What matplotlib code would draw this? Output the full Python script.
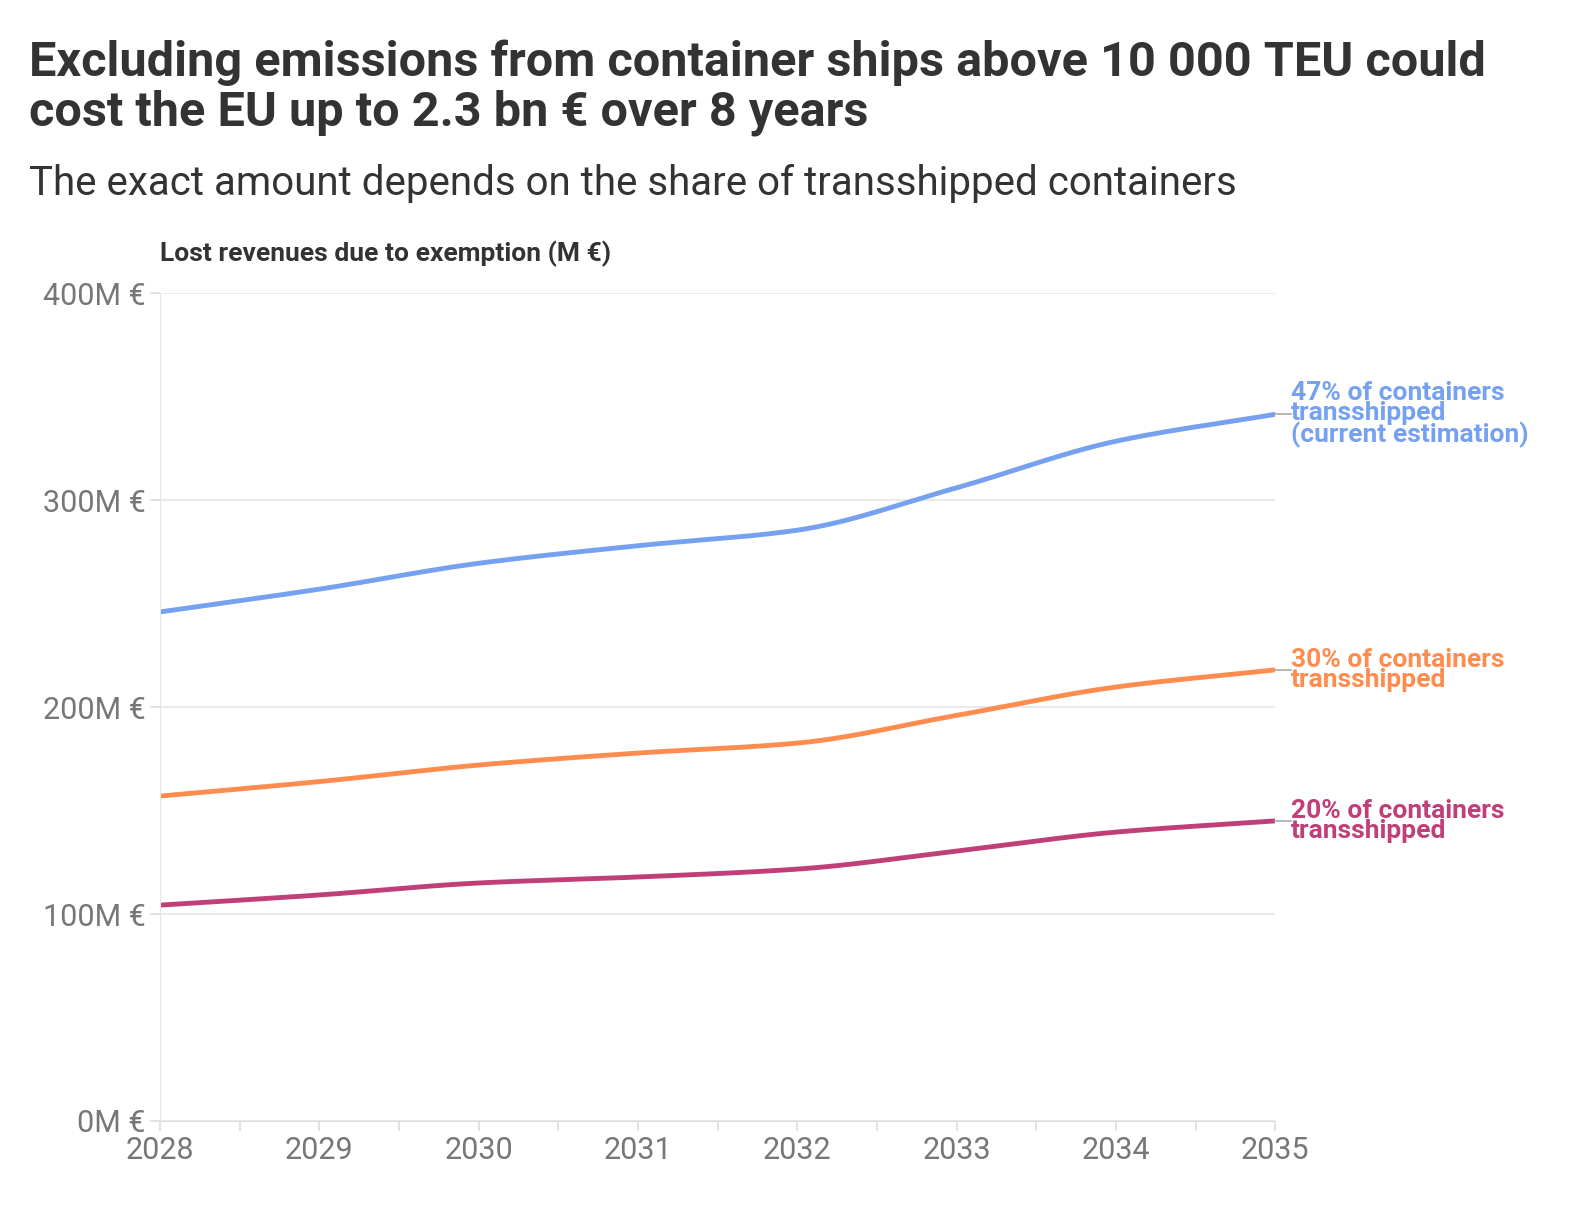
import matplotlib.pyplot as plt
import numpy as np

plt.rcParams['font.family'] = ['Roboto', 'DejaVu Sans']

years = [2028, 2029, 2030, 2031, 2032, 2033, 2034, 2035]
share_47 = [246, 257, 269.5, 278, 285.5, 306, 328.5, 341.5]
share_30 = [157, 164, 172, 177.8, 182.6, 196, 209.7, 218]
share_20 = [104.3, 109.2, 115, 117.9, 121.7, 130.4, 139.6, 145]
series_labels = ['47% of containers\ntransshipped\n(current estimation)',
                 '30% of containers\ntransshipped',
                 '20% of containers\ntransshipped']
colors = ['#75a1f0', '#ff8c4f', '#c13f78']


def monotone(x, y, n=300):
    # Fritsch-Carlson monotone cubic, for drawing a smooth line only
    x = np.asarray(x, float); y = np.asarray(y, float)
    h = np.diff(x); d = np.diff(y) / h
    m = np.zeros_like(y)
    m[0], m[-1] = d[0], d[-1]
    for i in range(1, len(y) - 1):
        m[i] = 0 if d[i-1] * d[i] <= 0 else 2 / (1/d[i-1] + 1/d[i])
    xs = np.linspace(x[0], x[-1], n)
    idx = np.clip(np.searchsorted(x, xs) - 1, 0, len(h) - 1)
    t = (xs - x[idx]) / h[idx]
    h00 = 2*t**3 - 3*t**2 + 1; h10 = t**3 - 2*t**2 + t
    h01 = -2*t**3 + 3*t**2; h11 = t**3 - t**2
    ys = h00*y[idx] + h10*h[idx]*m[idx] + h01*y[idx+1] + h11*h[idx]*m[idx+1]
    return xs, ys


fig = plt.figure(figsize=(15.9, 12.22), dpi=100)
ax = fig.add_axes([0.1006, 0.0827, 0.7014, 0.6773])

for vals, lab, c in zip([share_47, share_30, share_20], series_labels, colors):
    xs, ys = monotone(years, vals)
    ax.plot(xs, ys, color=c, lw=3.5, solid_capstyle='round')
    ax.plot([years[-1], years[-1] + 0.1], [vals[-1], vals[-1]], color='#aaaaaa', lw=1.2, clip_on=False)
    ax.text(years[-1] + 0.1, vals[-1], lab, color=c, fontsize=19, fontweight='bold',
            va='center', ha='left', linespacing=0.82)

ax.set_xlim(2028, 2035)
ax.set_ylim(0, 400)
ax.set_yticks([0, 100, 200, 300, 400])
ax.set_yticklabels([f'{v}M €' for v in [0, 100, 200, 300, 400]])
ax.set_xticks(years)
ax.set_xticks(np.arange(2028.5, 2035, 1), minor=True)
ax.grid(axis='y', color='#e6e6e6', lw=1.2)
ax.set_axisbelow(True)
for s in ['top', 'right']:
    ax.spines[s].set_visible(False)
ax.spines['left'].set_color('#e6e6e6')
ax.spines['bottom'].set_color('#dddddd')
ax.tick_params(axis='both', colors='#dddddd', labelcolor='#777777', labelsize=22, length=7, width=1.2)
ax.tick_params(axis='x', which='minor', length=7, color='#dddddd', width=1.2)

fig.text(0.018, 0.968, 'Excluding emissions from container ships above 10 000 TEU could\ncost the EU up to 2.3 bn € over 8 years',
         fontsize=35, fontweight='bold', color='#333333', va='top', linespacing=1.1)
fig.text(0.018, 0.85, 'The exact amount depends on the share of transshipped containers',
         fontsize=29, color='#333333', va='center')
fig.text(0.1006, 0.792, 'Lost revenues due to exemption (M €)', fontsize=19, fontweight='bold',
         color='#333333', va='center')

fig.savefig('out.png', dpi=100)
